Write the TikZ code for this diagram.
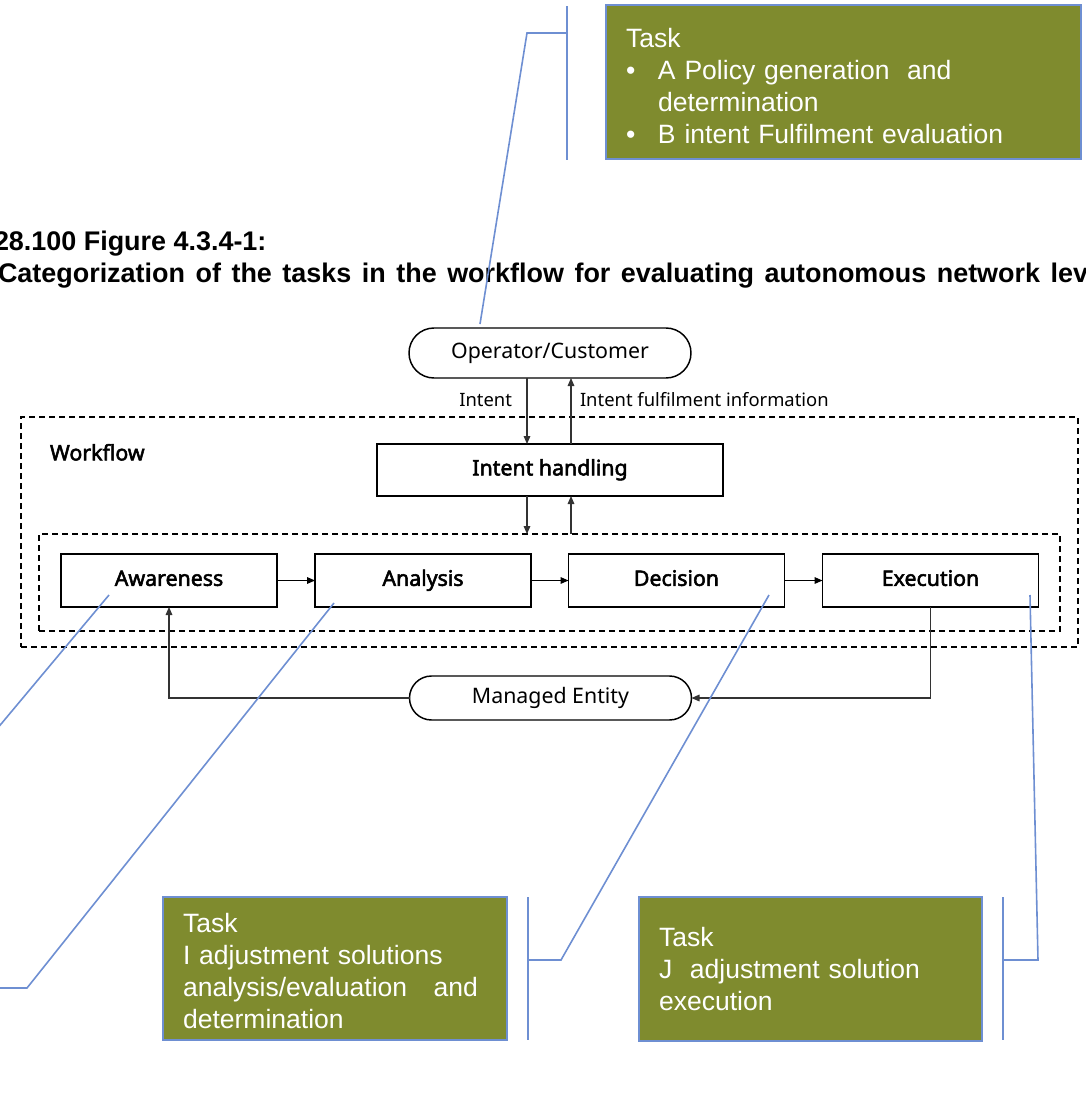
\documentclass[tikz,border=0pt]{standalone}
\usepackage{fontspec}
\setmainfont{Liberation Sans}
\newfontfamily\diagfamily{Noto Sans}[AutoFakeBold=2.5]
\usetikzlibrary{arrows.meta,shapes.misc}

\definecolor{taskolive}{HTML}{7F8B2E}
\definecolor{calloutblue}{HTML}{6E8FD2}
\definecolor{linegray}{HTML}{333333}

\newcommand\titlefont{\bfseries\fontsize{20.2pt}{24pt}\selectfont}
\newcommand\taskfont{\fontsize{19.9pt}{24pt}\selectfont}
\newcommand\diagfont{\diagfamily\fontsize{16pt}{19pt}\selectfont}
\newcommand\diagbold{\diagfamily\bfseries\fontsize{16pt}{19pt}\selectfont}
\newcommand\labelfont{\diagfamily\fontsize{13.8pt}{16pt}\selectfont}

\begin{document}
\begin{tikzpicture}[x=0.75pt,y=-0.75pt,
  every node/.style={inner sep=0pt, outer sep=0pt},
  flowbox/.style={draw=black, line width=1.1pt, minimum width=162pt,
    minimum height=39.75pt, text height=11.5pt, text depth=3.5pt, font=\diagbold},
  pill/.style={rounded rectangle, draw=black, line width=1.1pt,
    minimum width=211.5pt, text height=11.5pt, text depth=3.5pt, font=\diagfont},
  frame/.style={draw=black, line width=1.1pt, dash pattern=on 4.5pt off 3pt},
  conn/.style={draw=linegray, line width=0.8pt},
  arr/.style={conn, -{Triangle[length=6pt,width=5pt]}},
  callout/.style={draw=calloutblue, line width=1.2pt},
  taskbox/.style={draw=calloutblue, line width=1.6pt, fill=taskolive,
    text=white, align=left, anchor=north west, inner xsep=15pt,
    font=\taskfont}]

\useasboundingbox (0,0) rectangle (1086,1115);
\clip (0,0) rectangle (1086,1115);

% caption lines
\node[anchor=base west, font=\titlefont] (cap1) at (-6,250) {28.100 Figure 4.3.4-1:};
\node[anchor=base west, font=\titlefont] (cap2) at (-2,282)
  {\spaceskip=7.9pt\relax Categorization of the tasks in the workflow for evaluating autonomous network lev};

% workflow frames
\node[frame, minimum width=792.75pt, minimum height=172.5pt] (outer) at (549.5,532) {};
\node[frame, minimum width=765.75pt, minimum height=72.75pt] (inner) at (549.5,582.5) {};
\node[anchor=west, font=\diagbold, text height=11.5pt, text depth=3.5pt] (wf) at (50,455) {Workflow};

% main nodes
\node[pill, minimum height=37.5pt] (op) at (550,353) {Operator/Customer};
\node[flowbox, minimum width=259.5pt, minimum height=39pt] (ih) at (550,470) {Intent handling};
\node[flowbox] (aw) at (169,580.5) {Awareness};
\node[flowbox] (an) at (423,580.5) {Analysis};
\node[flowbox] (de) at (676.5,580.5) {Decision};
\node[flowbox] (ex) at (930.5,580.5) {Execution};
\node[pill, minimum height=33pt] (me) at (550.5,698) {Managed Entity};

% intent exchange
\draw[arr] ([xshift=-17.25pt]op.south) -- ([xshift=-17.25pt]op.south |- ih.north);
\draw[arr] ([xshift=15.75pt]op.south |- ih.north) -- ([xshift=15.75pt]op.south);
\node[anchor=east, font=\labelfont] (lint) at (512,400) {Intent};
\node[anchor=west, font=\labelfont] (lful) at (580,400) {Intent fulfilment information};

% intent handling <-> closed loop
\draw[arr] ([xshift=-17.25pt]ih.south) -- ([xshift=-17.25pt]ih.south |- inner.north);
\draw[arr] ([xshift=15.75pt]ih.south |- inner.north) -- ([xshift=15.75pt]ih.south);

% closed loop
\draw[arr, draw=black] (aw.east) -- (an.west);
\draw[arr, draw=black] (an.east) -- (de.west);
\draw[arr, draw=black] (de.east) -- (ex.west);
\draw[arr] (ex.south) |- (me.east);
\draw[arr] (me.west) -| (aw.south);

% task boxes
\node[taskbox, text width=326.25pt, minimum height=115.5pt] (tAB) at (606,5)
  {\rule{0pt}{20.5pt}Task\\
   \makebox[24pt][l]{\textbullet}A Policy generation\ \ and\\
   \hspace*{24pt}determination\\
   \makebox[24pt][l]{\textbullet}B intent Fulfilment evaluation};
\node[taskbox, text width=228pt, minimum height=107.25pt] (tI) at (163,897)
  {\rule{0pt}{17.5pt}Task\\
   I adjustment solutions\\
   analysis/evaluation\ \ \ and\\
   determination};
\node[taskbox, text width=227.25pt, minimum height=108pt] (tJ) at (639,897)
  {Task\\
   J\ \ adjustment solution\\
   execution};

% callout coordinates
\coordinate (cAB1) at (567,6);
\coordinate (cAB2) at (567,160);
\coordinate (cAB3) at (567,33);
\coordinate (cAB4) at (527,33);
\coordinate (cAB5) at (480,324);

\coordinate (cAw1) at (109,595);
\coordinate (cAw2) at (-60,797);

\coordinate (cAn1) at (334,603);
\coordinate (cAn2) at (27,988);
\coordinate (cAn3) at (-5,988);

\coordinate (cDe1) at (769,595);
\coordinate (cDe2) at (561,960);
\coordinate (cDe3) at (528,960);
\coordinate (cDe4) at (528,897);
\coordinate (cDe5) at (528,1040);

\coordinate (cEx1) at (1030,595);
\coordinate (cEx2) at (1038,960);
\coordinate (cEx3) at (1003,960);
\coordinate (cEx4) at (1003,897);
\coordinate (cEx5) at (1003,1040);

% callout lines
\draw[callout] (cAB1) -- (cAB2);
\draw[callout] (cAB3) -- (cAB4) -- (cAB5);
\draw[callout] (cAw1) -- (cAw2);
\draw[callout] (cAn1) -- (cAn2) -- (cAn3);
\draw[callout] (cDe1) -- (cDe2) -- (cDe3);
\draw[callout] (cDe4) -- (cDe5);
\draw[callout] (cEx1) -- (cEx2) -- (cEx3);
\draw[callout] (cEx4) -- (cEx5);
\end{tikzpicture}
\end{document}
